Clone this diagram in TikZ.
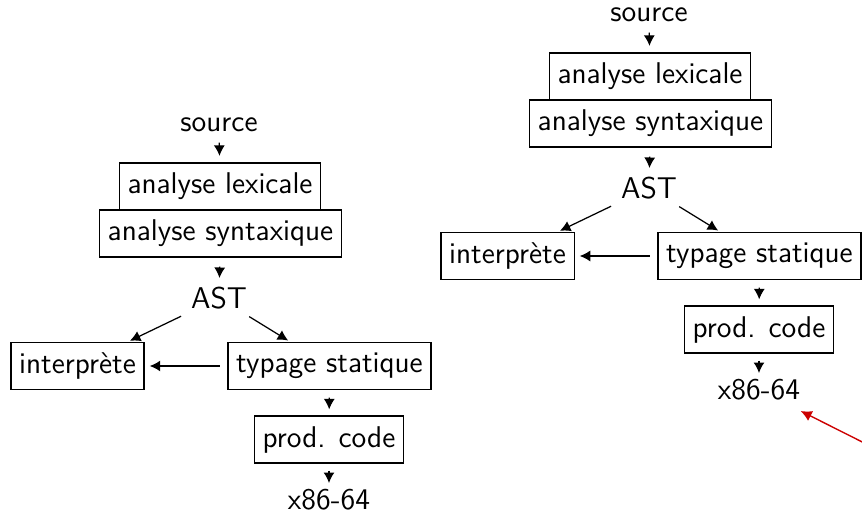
\documentclass[tikz,border=0pt]{standalone}
\usetikzlibrary{arrows.meta}
\begin{document}
\begin{tikzpicture}[x=0.4pt,y=-0.4pt,
  every node/.style={font=\sffamily\fontsize{12}{14}\selectfont},
  box/.style={draw, line width=0.5pt, minimum height=18.8pt},
  lbl/.style={inner ysep=0pt, minimum height=12.8pt},
  arr/.style={-{Latex[length=4.2pt,width=4.4pt]}, line width=0.5pt},
  redarr/.style={-{Latex[length=4.4pt,width=4.4pt]}, draw={rgb,255:red,204;green,0;blue,0}, line width=0.55pt}]
\clip (0,0) rectangle (862,516);
\foreach \dx/\dy/\p in {0/0/L, 430/-110/R}{
  \begin{scope}[shift={(\dx,\dy)}]
    \node[lbl] (src\p) at (219,125) {source};
    \node[box] (lex\p) at (220,186.5) {analyse lexicale};
    \node[box] (syn\p) at (220.5,233.5) {analyse syntaxique};
    \node[lbl] (ast\p) at (219,298) {AST};
    \node[box] (int\p) at (77.5,366) {interprète};
    \node[box] (typ\p) at (329.5,366) {typage statique};
    \node[box] (prod\p) at (329,439.5) {prod. code};
    \node[lbl] (x\p) at (329,500) {x86-64};
    \draw[arr, shorten <=0.4pt, shorten >=2.6pt] (src\p) -- (lex\p);
    \draw[arr, shorten <=3.6pt, shorten >=1.4pt] (syn\p) -- (ast\p);
    \draw[arr, shorten <=1.6pt, shorten >=1pt] (ast\p) -- (int\p);
    \draw[arr, shorten <=1.6pt, shorten >=1pt] (ast\p) -- (typ\p);
    \draw[arr, shorten <=3pt, shorten >=2pt] (typ\p) -- (int\p);
    \draw[arr, shorten <=3pt, shorten >=2.4pt] (typ\p) -- (prod\p);
    \draw[arr, shorten <=2.8pt, shorten >=0.2pt] (prod\p) -- (x\p);
  \end{scope}
}
\coordinate (redstart) at (900,461);
\draw[redarr, shorten >=4pt] (redstart) -- (xR);
\end{tikzpicture}
\end{document}
